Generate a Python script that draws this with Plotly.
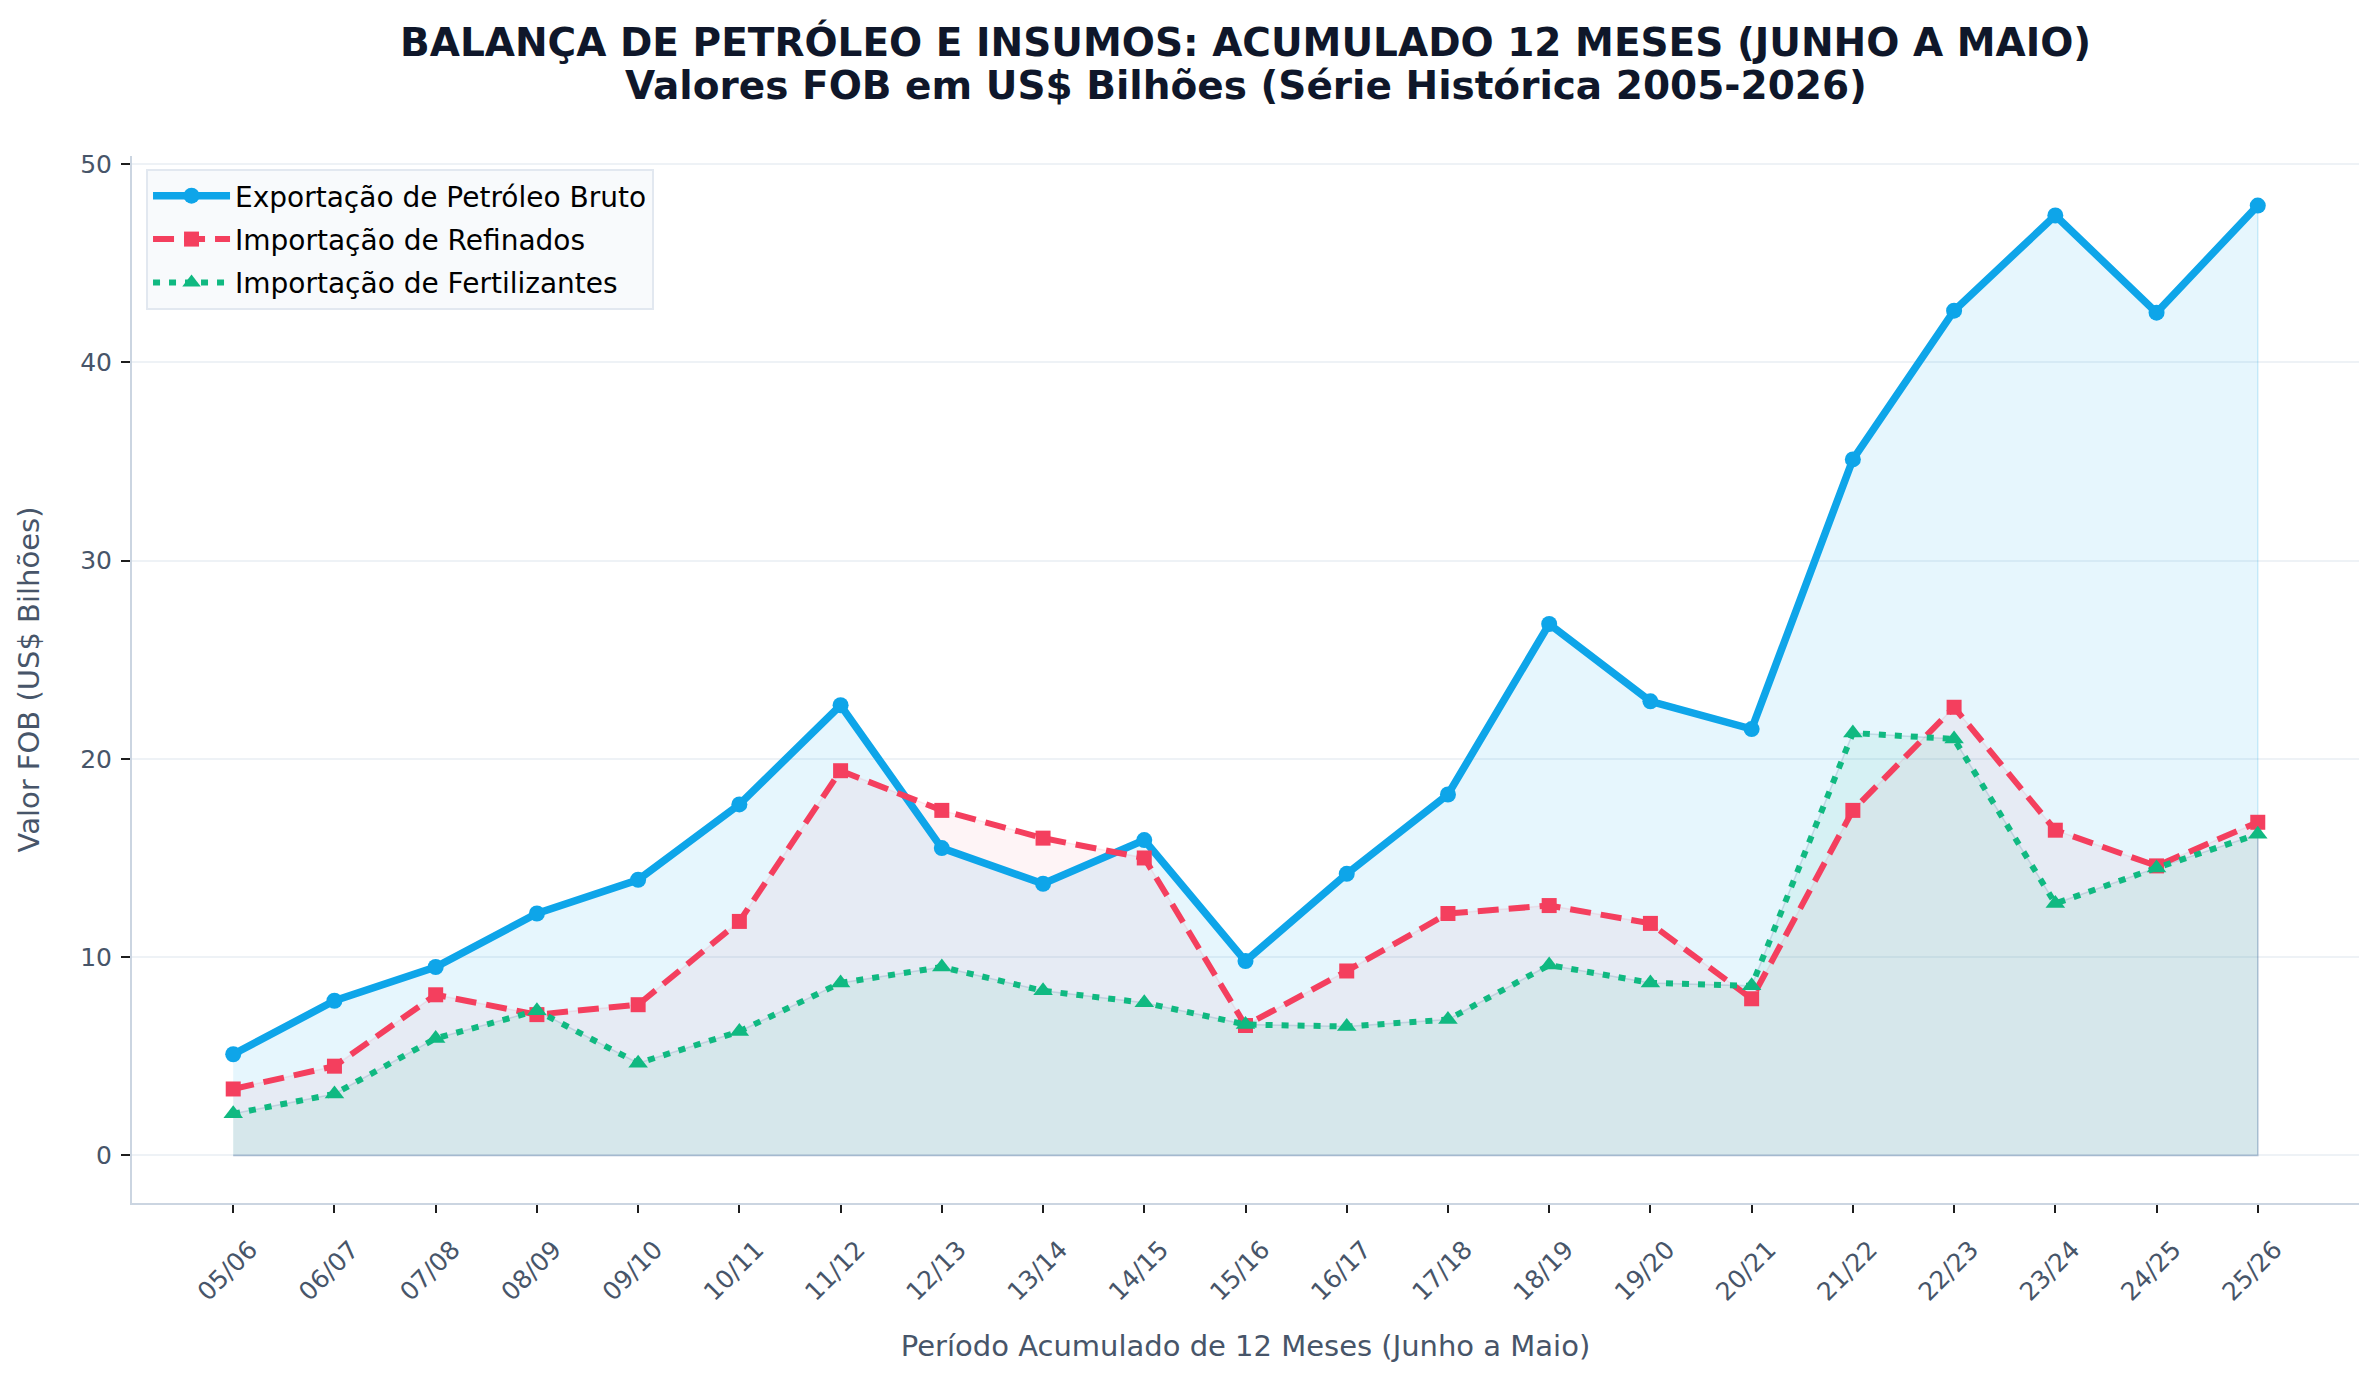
import plotly.graph_objects as go

periodos = ["05/06", "06/07", "07/08", "08/09", "09/10", "10/11", "11/12", "12/13", "13/14", "14/15",
            "15/16", "16/17", "17/18", "18/19", "19/20", "20/21", "21/22", "22/23", "23/24", "24/25", "25/26"]

exportacao_petroleo = [5.1, 7.8, 9.5, 12.2, 13.9, 17.7, 22.7, 15.5, 13.7, 15.9,
                       9.8, 14.2, 18.2, 26.8, 22.9, 21.5, 35.1, 42.6, 47.4, 42.5, 47.9]
importacao_refinados = [3.35, 4.5, 8.1, 7.1, 7.6, 11.8, 19.4, 17.4, 16.0, 15.0,
                        6.55, 9.3, 12.2, 12.6, 11.7, 7.9, 17.4, 22.6, 16.4, 14.6, 16.8]
importacao_fertilizantes = [2.1, 3.1, 5.9, 7.3, 4.65, 6.25, 8.7, 9.5, 8.3, 7.7,
                            6.6, 6.5, 6.85, 9.6, 8.7, 8.55, 21.3, 21.0, 12.7, 14.5, 16.2]

nomes = ["Exportação de Petróleo Bruto", "Importação de Refinados", "Importação de Fertilizantes"]
y_ticks = [0, 10, 20, 30, 40, 50]

titulo_l1 = "BALANÇA DE PETRÓLEO E INSUMOS: ACUMULADO 12 MESES (JUNHO A MAIO)"
titulo_l2 = "Valores FOB em US$ Bilhões (Série Histórica 2005-2026)"

series = [
    (exportacao_petroleo, nomes[0], "#0EA5E9", "rgba(14,165,233,0.10)", "rgba(14,165,233,0.18)",
     "solid", 7.5, "circle", 16),
    (importacao_refinados, nomes[1], "#F43F5E", "rgba(244,63,94,0.06)", "rgba(244,63,94,0.10)",
     "21px,10px", 6, "square", 15),
    (importacao_fertilizantes, nomes[2], "#10B981", "rgba(16,185,129,0.07)", "rgba(100,140,170,0.25)",
     "7px,9px", 6, "triangle-up", 17),
]

fig = go.Figure()

# fills (drawn first, under all lines)
for vals, nome, cor, fill, edge, dash, lw, sym, ms in series:
    fig.add_trace(go.Scatter(
        x=periodos + periodos[::-1],
        y=vals + [0] * len(vals),
        mode="lines", fill="toself", fillcolor=fill,
        line=dict(color=edge, width=1.5),
        hoverinfo="skip", showlegend=False,
    ))

for i, (vals, nome, cor, fill, edge, dash, lw, sym, ms) in enumerate(series):
    fig.add_trace(go.Scatter(
        x=periodos, y=vals, name=nome, mode="lines+markers", legendgroup=f"g{i}",
        line=dict(color=cor, width=lw, dash=dash),
        marker=dict(color=cor, size=ms, symbol=sym, line=dict(width=0)),
    ))

# title as two centered lines above the plot area (plot top at 156 px, height 1047 px)
fig.add_annotation(text=f"<b>{titulo_l1}</b>", xref="paper", yref="paper", x=0.5,
                   y=1 + (156 - 42) / 1047, xanchor="center", yanchor="middle", showarrow=False,
                   font=dict(size=39, color="#0F172A", family="DejaVu Sans"))
fig.add_annotation(text=f"<b>{titulo_l2}</b>", xref="paper", yref="paper", x=0.5,
                   y=1 + (156 - 86) / 1047, xanchor="center", yanchor="middle", showarrow=False,
                   font=dict(size=39, color="#0F172A", family="DejaVu Sans"))

fig.update_layout(
    width=2379, height=1379,
    paper_bgcolor="white", plot_bgcolor="white",
    font=dict(family="DejaVu Sans", color="#475569"),
    margin=dict(l=132, r=20, t=156, b=176, autoexpand=False),
    legend=dict(x=0.0063, y=0.9876, xanchor="left", yanchor="top",
                bgcolor="#F8FAFC", bordercolor="#E2E8F0", borderwidth=2,
                font=dict(size=28, color="#000000"), itemwidth=77,
                traceorder="grouped", tracegroupgap=4),
    showlegend=True,
)

fig.update_xaxes(
    type="category", range=[-1, 21],
    showgrid=False, zeroline=False,
    showline=True, linecolor="#CBD5E1", linewidth=2,
    ticks="outside", ticklen=8, tickwidth=2, tickcolor="#1e1e1e",
    tickangle=-45, tickfont=dict(size=25, color="#475569"),
    ticklabelshift=17, ticklabelstandoff=12,
    title=dict(text="Período Acumulado de 12 Meses (Junho a Maio)",
               font=dict(size=29, color="#475569"), standoff=30),
)
fig.update_yaxes(
    range=[-2.4, 50.4], tickmode="array", tickvals=y_ticks,
    showgrid=True, gridcolor="#EEF2F6", gridwidth=1.5, zeroline=False,
    showline=True, linecolor="#CBD5E1", linewidth=2,
    ticks="outside", ticklen=9, tickwidth=2, tickcolor="#1e1e1e",
    tickfont=dict(size=25, color="#475569"), ticklabelstandoff=4,
    title=dict(text="Valor FOB (US$ Bilhões)", font=dict(size=29, color="#475569"), standoff=32),
)

fig.write_html("out.html")
